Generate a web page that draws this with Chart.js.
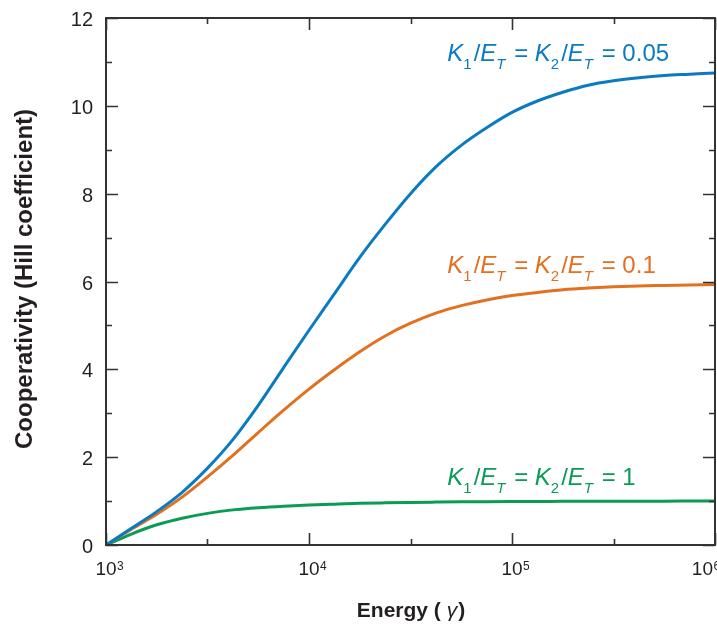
<!DOCTYPE html>
<html>
<head>
<meta charset="utf-8">
<script src="https://cdn.jsdelivr.net/npm/chart.js@4"></script>
<style>
    html, body { margin: 0; padding: 0; background: #fff; }
    #wrap { width: 717px; height: 624px; }
</style>
</head>
<body>
<div id="wrap"><canvas id="hillChart" width="717" height="624"></canvas></div>
<script>
// energy values (gamma), eight steps per decade, shared by all three curves
const energy = [1000, 1334, 1778, 2371, 3162, 4217, 5623, 7499,
    10000, 13335, 17783, 23714, 31623, 42170, 56234, 74989,
    100000, 133352, 177828, 237137, 316228, 421697, 562341, 749894, 1000000];

// Hill coefficient
const hill005 = [0, 0.38, 0.76, 1.2, 1.75, 2.4, 3.18, 4.04,
    4.89, 5.72, 6.55, 7.3, 8.0, 8.61, 9.1, 9.5,
    9.85, 10.11, 10.31, 10.47, 10.57, 10.64, 10.69, 10.72, 10.75];
const hill01 = [0, 0.36, 0.7, 1.09, 1.55, 2.04, 2.56, 3.07,
    3.55, 3.99, 4.4, 4.76, 5.05, 5.28, 5.45, 5.58,
    5.68, 5.75, 5.81, 5.85, 5.88, 5.9, 5.91, 5.92, 5.93];
const hill1 = [0, 0.25, 0.46, 0.61, 0.72, 0.8, 0.85, 0.885,
    0.91, 0.93, 0.948, 0.96, 0.97, 0.977, 0.983, 0.987,
    0.99, 0.992, 0.994, 0.996, 0.997, 0.998, 0.999, 1.0, 1.0];

// axis ticks
const yMajor = [0, 2, 4, 6, 8, 10, 12];
const yMinor = [1, 3, 5, 7, 9, 11];
const xMajor = [1000, 10000, 100000, 1000000];
const xExp = ['3', '4', '5', '6'];
const xMinor = [3162, 31623, 316228];

// curve labels: ratio text, position (energy, hill)
const labelRatio = ['0.05', '0.1', '1'];
const labelAt = [[48000, 11.02], [48000, 6.2], [48000, 1.36]];

const colors = ['#0a7bc2', '#e2701f', '#0a9b55'];
const axisColor = '#333333';
const textColor = '#231f20';
const FONT = '"Liberation Sans", Arial, Helvetica, sans-serif';

function pts(ys) {
    return energy.map((e, i) => ({ x: e, y: ys[i] }));
}

const series = [hill005, hill01, hill1];

// draws the frame, inward ticks, tick labels, axis titles and curve labels
const decorPlugin = {
    id: 'decor',
    afterDatasetsDraw(chart) {
        const { ctx, chartArea: a, scales: { x, y } } = chart;
        ctx.save();

        // frame
        ctx.strokeStyle = axisColor;
        ctx.lineWidth = 2;
        ctx.strokeRect(a.left, a.top, a.right - a.left, a.bottom - a.top);

        // ticks, on all four sides, pointing in
        ctx.lineWidth = 1.6;
        ctx.beginPath();
        const yTick = (v, len) => {
            const py = Math.round(y.getPixelForValue(v)) + 0.5;
            ctx.moveTo(a.left, py); ctx.lineTo(a.left + len, py);
            ctx.moveTo(a.right, py); ctx.lineTo(a.right - len, py);
        };
        const xTick = (v, len) => {
            const px = Math.round(x.getPixelForValue(v)) + 0.5;
            ctx.moveTo(px, a.bottom); ctx.lineTo(px, a.bottom - len);
            ctx.moveTo(px, a.top); ctx.lineTo(px, a.top + len);
        };
        yMajor.forEach(v => yTick(v, 12));
        yMinor.forEach(v => yTick(v, 6));
        xMajor.forEach(v => xTick(v, 12));
        xMinor.forEach(v => xTick(v, 6));
        ctx.stroke();

        // y tick labels
        ctx.fillStyle = textColor;
        ctx.font = '20px ' + FONT;
        ctx.textAlign = 'right';
        ctx.textBaseline = 'alphabetic';
        yMajor.forEach(v => {
            ctx.fillText(String(v), a.left - 13, y.getPixelForValue(v) + 8);
        });

        // x tick labels: 10 with exponent, last one pulled in to fit
        xMajor.forEach((v, i) => {
            ctx.font = '19px ' + FONT;
            const w = ctx.measureText('10').width;
            let px = x.getPixelForValue(v);
            if (px + w / 2 > chart.width - 4) px = chart.width - 4 - w / 2;
            ctx.textAlign = 'center';
            ctx.fillText('10', px, a.bottom + 30);
            ctx.font = '12px ' + FONT;
            ctx.textAlign = 'left';
            ctx.fillText(xExp[i], px + w / 2 + 0.5, a.bottom + 25);
        });

        // x axis title
        ctx.font = 'bold 21px ' + FONT;
        const t1 = 'Energy ( ';
        const t2 = '\u03b3';
        const t3 = ')';
        ctx.textAlign = 'left';
        const w1 = ctx.measureText(t1).width;
        const w3 = ctx.measureText(t3).width;
        ctx.font = 'italic 21px ' + FONT;
        const w2 = ctx.measureText(t2).width;
        let cx = (a.left + a.right) / 2 - (w1 + w2 + w3) / 2;
        const by = 617;
        ctx.font = 'bold 21px ' + FONT;
        ctx.fillText(t1, cx, by);
        ctx.font = 'italic 21px ' + FONT;
        ctx.fillText(t2, cx + w1, by);
        ctx.font = 'bold 21px ' + FONT;
        ctx.fillText(t3, cx + w1 + w2 + 1, by);

        // y axis title
        ctx.save();
        ctx.translate(32, 279);
        ctx.rotate(-Math.PI / 2);
        ctx.textAlign = 'center';
        ctx.font = 'bold 24px ' + FONT;
        ctx.fillText('Cooperativity (Hill coefficient)', 0, 0);
        ctx.restore();

        // curve labels: K1/ET = K2/ET = r
        labelRatio.forEach((r, i) => {
            let px = x.getPixelForValue(labelAt[i][0]);
            const py = y.getPixelForValue(labelAt[i][1]);
            ctx.fillStyle = colors[i];
            const parts = [
                ['K', 'i'], ['1', 's'], ['/', 'n'], ['E', 'i'], ['T', 'si'],
                [' = ', 'n'],
                ['K', 'i'], ['2', 's'], ['/', 'n'], ['E', 'i'], ['T', 'si'],
                [' = ' + r, 'n']
            ];
            parts.forEach(([s, k]) => {
                let dy = 0;
                let extra = 0;
                if (k === 'i') ctx.font = 'italic 24px ' + FONT;
                else if (k === 'n') ctx.font = '24px ' + FONT;
                else if (k === 's') { ctx.font = '15px ' + FONT; dy = 8; extra = 2; }
                else { ctx.font = 'italic 15px ' + FONT; dy = 8; extra = 2; }
                ctx.textAlign = 'left';
                ctx.fillText(s, px, py + dy);
                px += ctx.measureText(s).width + extra;
            });
        });

        ctx.restore();
    }
};

const ctx = document.getElementById('hillChart').getContext('2d');
new Chart(ctx, {
    type: 'line',
    data: {
        datasets: series.map((s, i) => ({
            data: pts(s),
            borderColor: colors[i],
            borderWidth: 3,
            pointRadius: 0,
            fill: false,
            cubicInterpolationMode: 'monotone'
        }))
    },
    options: {
        responsive: false,
        animation: false,
        events: [],
        layout: { padding: { left: 106, right: 2, top: 18, bottom: 79 } },
        plugins: { legend: { display: false }, tooltip: { enabled: false } },
        scales: {
            x: { type: 'logarithmic', min: 1000, max: 1000000, display: false },
            y: { type: 'linear', min: 0, max: 12, display: false }
        }
    },
    plugins: [decorPlugin]
});
</script>
</body>
</html>
